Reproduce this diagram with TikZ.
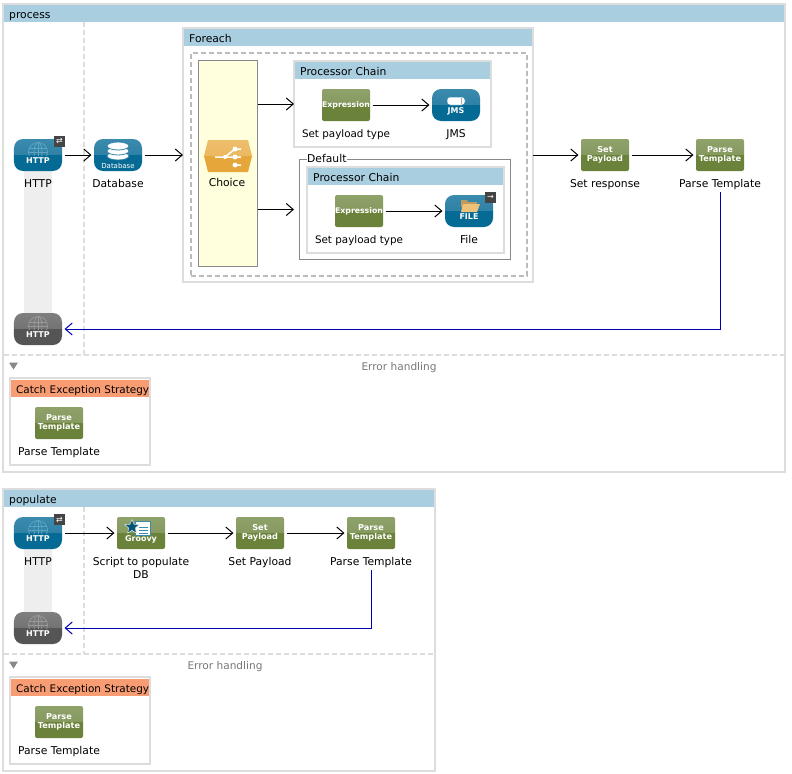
\documentclass[tikz,border=0pt]{standalone}
\usepackage{fontspec}
\setmainfont{DejaVu Sans}
\usetikzlibrary{arrows.meta,positioning,shapes.geometric}

\definecolor{boxgray}{HTML}{DDDDDD}
\definecolor{dashgray}{HTML}{BBBBBB}
\definecolor{edgegray}{HTML}{888888}
\definecolor{bandgray}{HTML}{EEEEEE}
\definecolor{headblue}{HTML}{A9CEE0}
\definecolor{headorange}{HTML}{F89C74}
\definecolor{choiceyellow}{HTML}{FFFFDD}
\definecolor{returnblue}{HTML}{0000B0}
\definecolor{globeblue}{HTML}{5FA5C4}
\definecolor{globegray}{HTML}{9A9A9A}
\definecolor{badgegray}{HTML}{444444}
\definecolor{errgray}{HTML}{777777}
\definecolor{tealtop}{HTML}{3A8BAE}
\definecolor{tealmid}{HTML}{2F81A5}
\definecolor{tealbot}{HTML}{056A94}
\definecolor{greentop}{HTML}{8FA26A}
\definecolor{greenmid}{HTML}{86995F}
\definecolor{greenbot}{HTML}{6A8239}
\definecolor{slatetop}{HTML}{7F7F7F}
\definecolor{slatemid}{HTML}{737373}
\definecolor{slatebot}{HTML}{555555}
\definecolor{ambertop}{HTML}{EFBE6C}
\definecolor{ambermid}{HTML}{ECB861}
\definecolor{amberbot}{HTML}{E5A63A}
\definecolor{foldertan}{HTML}{EFC27A}

\pgfdeclareverticalshading{glossteal}{100bp}{color(0bp)=(tealbot); color(50bp)=(tealbot); color(51bp)=(tealmid); color(75bp)=(tealtop); color(100bp)=(tealtop)}
\pgfdeclareverticalshading{glossgreen}{100bp}{color(0bp)=(greenbot); color(50bp)=(greenbot); color(51bp)=(greenmid); color(75bp)=(greentop); color(100bp)=(greentop)}
\pgfdeclareverticalshading{glossslate}{100bp}{color(0bp)=(slatebot); color(50bp)=(slatebot); color(51bp)=(slatemid); color(75bp)=(slatetop); color(100bp)=(slatetop)}
\pgfdeclareverticalshading{glossamber}{100bp}{color(0bp)=(amberbot); color(50bp)=(amberbot); color(51bp)=(ambermid); color(75bp)=(ambertop); color(100bp)=(ambertop)}

\newcommand{\globemark}[2]{%
  \begin{scope}[shift={(#1.center)}, draw=#2, line width=.7bp]
    \clip (-10,-14) rectangle (10,0);
    \draw (0,-3) circle (9.5);
    \draw (0,-3) ellipse [x radius=4, y radius=9.5];
    \draw (-9,-7) -- (9,-7) (-9,-3) -- (9,-3) (0,-13) -- (0,5);
  \end{scope}}

\begin{document}
\begin{tikzpicture}[x=1bp, y=-1bp, >={Straight Barb[length=7bp,width=12bp]},
  flowbox/.style={draw=boxgray, line width=2bp, fill=white, anchor=north west, inner sep=0pt, outer sep=0pt},
  head/.style={fill=headblue, anchor=north west, inner xsep=5bp, inner ysep=0pt, minimum height=17bp, text height=11bp, text depth=2bp, font=\fontsize{10.8}{12}\selectfont},
  catchhead/.style={head, fill=headorange, text width=128bp, font=\fontsize{10.45}{12}\selectfont},
  icon/.style={minimum width=48bp, minimum height=32bp, inner sep=0pt, outer sep=2.5bp, text=white, align=center, font=\bfseries\fontsize{8.2}{9}\selectfont},
  httpicon/.style={icon, rounded corners=9bp, shading=glossteal, text height=16bp, text depth=0pt, font=\bfseries\fontsize{8}{9}\selectfont},
  deadicon/.style={httpicon, shading=glossslate},
  greenicon/.style={icon, rounded corners=2bp, shading=glossgreen},
  expricon/.style={greenicon, font=\bfseries\fontsize{7.8}{9}\selectfont},
  caption/.style={inner sep=0pt, outer sep=0pt, text height=8bp, text depth=2.2bp, font=\fontsize{10.8}{13}\selectfont},
  payloadcap/.style={caption, font=\fontsize{10.4}{13}\selectfont},
  badge/.style={fill=badgegray, text=white, minimum size=11bp, inner sep=0pt, font=\fontsize{8}{8}\selectfont},
  divider/.style={draw=boxgray, line width=2bp, dash pattern=on 5bp off 3bp},
  flow/.style={->, line width=1bp},
  return/.style={->, line width=1bp, draw=returnblue, shorten <=3bp},
  errtext/.style={text=errgray, inner sep=0pt, font=\fontsize{10.6}{12}\selectfont}]
\path[use as bounding box] (0,0) rectangle (792,774);

% process flow
\node[flowbox, minimum width=782bp, minimum height=468bp] (process) at (3,4) {};
\node[head, text width=770bp] (processhead) at (4,5) {process};
\fill[bandgray] (24,171) rectangle (52,313);
\draw[divider] (84,22) -- (84,355);
\draw[divider] (4,355) -- (784,355);
\node[errtext] (processerr) at (399,368) {Error handling};
\fill[edgegray] (9,362.5) -- (18,362.5) -- (13.5,369.5) -- cycle;

\node[httpicon] (http) at (38,155) {HTTP};
\globemark{http}{globeblue}
\node[badge] (httpbadge) at (59.5,141.5) {⇄};
\node[caption, below=5.5bp of http] (httplabel) {HTTP};
\node[icon, rounded corners=9bp, shading=glossteal, text height=26bp, text depth=0pt, font=\fontsize{7}{8}\selectfont] (db) at (118,155) {Database};
\foreach \yy in {5,0,-5} {
  \filldraw[fill=white, draw=tealmid, line width=.8bp] (118,151+\yy) ellipse [x radius=11, y radius=4];
}
\node[caption, below=5.5bp of db] (dblabel) {Database};
\node[deadicon] (httpend) at (38,329) {HTTP};
\globemark{httpend}{globegray}

% foreach scope
\node[flowbox, minimum width=350bp, minimum height=254bp] (foreach) at (183,28) {};
\node[head, text width=338bp] (foreachhead) at (184,29) {Foreach};
\node[draw=dashgray, line width=2bp, dash pattern=on 5bp off 3bp, anchor=north west, inner sep=0pt, minimum width=336bp, minimum height=223bp] (foreachin) at (190,52) {};

\node[draw=edgegray, fill=choiceyellow, anchor=north west, inner sep=0pt, outer sep=0pt, minimum width=59.5bp, minimum height=206bp] (choice) at (198,60) {};
\shade[shading=glossamber] (208,140) -- (248,140) -- (252,156) -- (248,172) -- (208,172) -- (204,156) -- cycle;
\draw[white, line width=1.5bp] (215,157) -- (225,157) -- (235,149) -- (241,149) (225,157) -- (241,157) (235,165) -- (241,165);
\fill[white] (225,157) circle (2) (235,149) circle (2.5) (235,157) circle (2.5) (235,165) circle (2.5);
\node[caption] (choicelabel) at (227,184) {Choice};

\node[flowbox, minimum width=197bp, minimum height=86bp] (chainone) at (294,61) {};
\node[head, text width=185bp] (chainonehead) at (295,62) {Processor Chain};
\node[expricon] (exprone) at (346,105) {Expression};
\node[payloadcap, below=5.5bp of exprone] (expronelabel) {Set payload type};
\node[httpicon] (jms) at (456,105) {JMS};
\filldraw[fill=white, draw=tealtop, line width=.5bp, rounded corners=3bp] (447,97) rectangle (465,105);
\fill[edgegray!70] (461,98) rectangle (462,104);
\node[caption, below=5.5bp of jms] (jmslabel) {JMS};

\node[draw=edgegray, anchor=north west, inner sep=0pt, outer sep=0pt, minimum width=211bp, minimum height=100bp] (dflt) at (299.5,159.5) {};
\node[fill=white, anchor=west, inner sep=0pt, text height=8bp, text depth=2.2bp, font=\fontsize{10.8}{12}\selectfont] (dfltlabel) at (307,160) {Default};
\node[flowbox, minimum width=197bp, minimum height=86bp] (chaintwo) at (307,167) {};
\node[head, text width=185bp] (chaintwohead) at (308,168) {Processor Chain};
\node[expricon] (exprtwo) at (359,211) {Expression};
\node[payloadcap, below=5.5bp of exprtwo] (exprtwolabel) {Set payload type};
\node[httpicon] (file) at (469,211) {FILE};
\fill[foldertan!80!black] (461,200) -- (467,200) -- (468,202) -- (477,202) -- (477,207) -- (461,207) -- cycle;
\fill[foldertan] (463,204) -- (480,204) -- (477,212) -- (461,212) -- cycle;
\node[badge] (filebadge) at (490.5,197.5) {→};
\node[caption, below=5.5bp of file] (filelabel) {File};

\node[greenicon] (setresp) at (605,155) {Set\\Payload};
\node[caption, below=5.5bp of setresp] (setresplabel) {Set response};
\node[greenicon] (parse) at (720,155) {Parse\\Template};
\node[caption, below=5.5bp of parse] (parselabel) {Parse Template};

\draw[flow] (httpbadge.east |- http) -- (db);
\draw[flow] (db) -- (foreach.west |- db);
\draw[flow] (choice.east |- chainone) -- (chainone);
\draw[flow] (choice.east |- dflt) -- (chainone.west |- dflt);
\draw[flow] (exprone) -- (jms);
\draw[flow] (exprtwo) -- (file);
\draw[flow] (foreach.east |- setresp) -- (setresp);
\draw[flow] (setresp) -- (parse);
\draw[return] (parselabel.south) |- (httpend);

% catch strategy
\node[flowbox, minimum width=140bp, minimum height=87bp] (catchone) at (10,378) {};
\node[catchhead] (catchonehead) at (11,380) {\mbox{Catch Exception Strategy}};
\node[greenicon] (parseone) at (59,423) {Parse\\Template};
\node[caption, below=5.5bp of parseone] (parseonelabel) {Parse Template};

% populate flow
\node[flowbox, minimum width=432bp, minimum height=282bp] (populate) at (3,489) {};
\node[head, text width=420bp] (populatehead) at (4,490) {populate};
\fill[bandgray] (24,549) rectangle (52,612);
\draw[divider] (84,507) -- (84,654);
\draw[divider] (4,654) -- (434,654);
\node[errtext] (populateerr) at (225,667) {Error handling};
\fill[edgegray] (9,661.5) -- (18,661.5) -- (13.5,668.5) -- cycle;

\node[httpicon] (httpsrc) at (38,533) {HTTP};
\globemark{httpsrc}{globeblue}
\node[badge] (srcbadge) at (59.5,519.5) {⇄};
\node[caption, below=5.5bp of httpsrc] (httpsrclabel) {HTTP};
\node[greenicon, text height=17bp, text depth=0pt, font=\bfseries\fontsize{8}{9}\selectfont] (groovy) at (141,533) {Groovy};
\filldraw[fill=white, draw=tealtop, line width=.5bp] (135,521) rectangle (150,535);
\draw[tealtop, line width=.8bp] (139,527) -- (148,527) (139,530) -- (148,530) (139,533) -- (148,533);
\node[star, star points=5, star point ratio=2.2, fill=tealbot!80!black, draw=white, line width=.4bp, minimum size=15bp, inner sep=0pt] (groovystar) at (132,527) {};
\node[caption, below=5.5bp of groovy, align=center, text height=, text depth=] (groovylabel) {Script to populate\\DB};
\node[greenicon] (setpay) at (260,533) {Set\\Payload};
\node[caption, below=5.5bp of setpay] (setpaylabel) {Set Payload};
\node[greenicon] (parsepop) at (371,533) {Parse\\Template};
\node[caption, below=5.5bp of parsepop] (parsepoplabel) {Parse Template};
\node[deadicon] (httpsrcend) at (38,628) {HTTP};
\globemark{httpsrcend}{globegray}

\draw[flow] (srcbadge.east |- httpsrc) -- (groovy);
\draw[flow] (groovy) -- (setpay);
\draw[flow] (setpay) -- (parsepop);
\draw[return] (parsepoplabel.south) |- (httpsrcend);

\node[flowbox, minimum width=140bp, minimum height=87bp] (catchtwo) at (10,677) {};
\node[catchhead] (catchtwohead) at (11,679) {\mbox{Catch Exception Strategy}};
\node[greenicon] (parsetwo) at (59,722) {Parse\\Template};
\node[caption, below=5.5bp of parsetwo] (parsetwolabel) {Parse Template};
\end{tikzpicture}
\end{document}
